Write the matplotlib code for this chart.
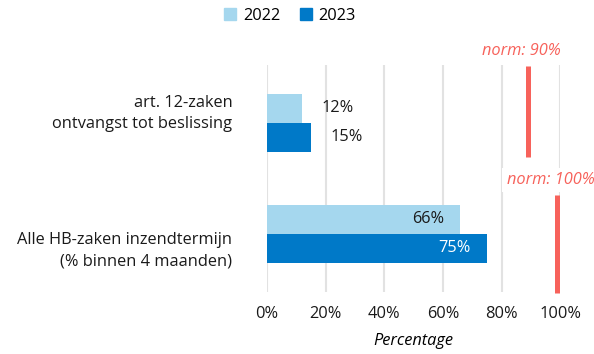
import numpy as np
import matplotlib.pyplot as plt
from matplotlib.transforms import ScaledTranslation
from matplotlib.patches import Patch

# Data
categories = ["art. 12-zaken\nontvangst tot beslissing",
              "Alle HB-zaken inzendtermijn\n(% binnen 4 maanden)"]
years = ["2022", "2023"]
values_2022 = [12, 66]
values_2023 = [15, 75]
norms = [90, 100]
norm_labels = ["norm: 90%", "norm: 100%"]

plt.rcParams["font.family"] = ["Open Sans", "DejaVu Sans"]
plt.rcParams["font.size"] = 11.75

color_2022 = "#a5d7ee"
color_2023 = "#0079c8"
norm_color = "#f7625b"
grid_color = "#e2e2e2"

fig = plt.figure(figsize=(5.94, 3.54), dpi=100)
ax = fig.add_axes([0.4495, 0.175, 0.4935, 0.641])

y = np.arange(len(categories))
bar_h = 0.26

bars_22 = ax.barh(y - bar_h / 2, values_2022, height=bar_h, color=color_2022, zorder=3)
bars_23 = ax.barh(y + bar_h / 2, values_2023, height=bar_h, color=color_2023, zorder=3)

# value labels: outside for short bars, inside for long ones
for bars, vals, inside_color in [(bars_22, values_2022, "#1a1a1a"), (bars_23, values_2023, "white")]:
    for bar, v in zip(bars, vals):
        cy = bar.get_y() + bar.get_height() / 2
        if v < 30:
            ax.annotate(f"{v}%", (v, cy), xytext=(14, 0), textcoords="offset points",
                        ha="left", va="center", color="#1a1a1a", zorder=5)
        else:
            ax.annotate(f"{v}%", (v, cy), xytext=(-12, 0), textcoords="offset points",
                        ha="right", va="center", color=inside_color, zorder=5)

# norm lines per category
shift = ScaledTranslation(-3 / 100, 0, fig.dpi_scale_trans)
norm_spans = [(-0.51, 0.31), (0.65, 1.53)]
for i, (n, lab) in enumerate(zip(norms, norm_labels)):
    top, bottom = norm_spans[i]
    ax.plot([n, n], [top, bottom], color=norm_color, lw=3.6,
            solid_capstyle="butt", transform=ax.transData + shift, zorder=4, clip_on=False)
    ax.annotate(lab, (n, top), xytext=(-7, 11), textcoords="offset points",
                ha="center", va="center", color=norm_color, style="italic", zorder=6,
                annotation_clip=False,
                bbox=dict(boxstyle="square,pad=0.25", fc="white", ec="none"))

ax.set_xlim(0, 100)
ax.set_ylim(1.525, -0.52)
ax.set_xticks(np.arange(0, 101, 20))
ax.set_xticklabels([f"{t}%" for t in range(0, 101, 20)])
ax.set_yticks(y)
ax.set_yticklabels(categories, ha="right", linespacing=1.45)
ax.tick_params(axis="both", length=0, colors="#1a1a1a")
ax.tick_params(axis="y", pad=25)
ax.tick_params(axis="x", pad=10)

# nudge category labels
for lbl, dy in zip(ax.get_yticklabels(), [14, -12]):
    lbl.set_transform(lbl.get_transform() + ScaledTranslation(0, dy / 100, fig.dpi_scale_trans))

ax.xaxis.grid(True, color=grid_color, lw=1.5, zorder=0)
for side in ["top", "right", "bottom", "left"]:
    ax.spines[side].set_visible(False)

ax.set_xlabel("Percentage", style="italic", labelpad=8)

handles = [Patch(color=color_2022), Patch(color=color_2023)]
fig.legend(handles, years, loc="center", bbox_to_anchor=(0.488, 0.955), ncol=2, frameon=False,
           handlelength=0.75, handleheight=0.75, handletextpad=0.4, columnspacing=1.2)

fig.savefig("out.png", dpi=100)
